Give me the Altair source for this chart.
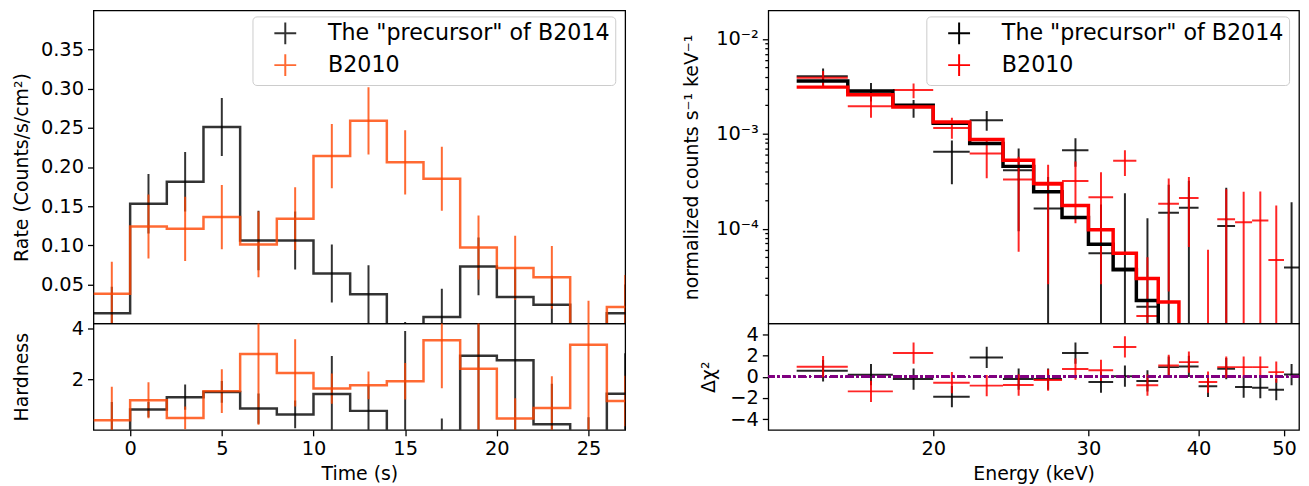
import altair as alt
import pandas as pd

FONT = "DejaVu Sans"
names = ['The "precursor" of B2014', 'B2010']

# ---------------- left: light curves (2 s bins) ----------------
t_edges = [-2, 0, 2, 4, 6, 8, 10, 12, 14, 16, 18, 20, 22, 24, 26, 28]
rate_pre = [0.013, 0.153, 0.181, 0.251, 0.106, 0.106, 0.064, 0.0375, -0.035, 0.0084, 0.073, 0.034, 0.024, -0.040, 0.013]
rate_pre_err = [0.034, 0.038, 0.038, 0.037, 0.038, 0.037, 0.037, 0.037, 0.037, 0.036, 0.037, 0.037, 0.037, 0.037, 0.037]
rate_b10 = [0.038, 0.124, 0.121, 0.136, 0.101, 0.134, 0.214, 0.259, 0.206, 0.185, 0.097, 0.071, 0.059, -0.012, 0.021]
rate_b10_err = [0.041, 0.041, 0.041, 0.041, 0.042, 0.040, 0.041, 0.043, 0.041, 0.041, 0.041, 0.041, 0.040, 0.041, 0.041]

hard_pre = [-0.5, 0.80, 1.29, 1.50, 0.84, 0.61, 1.42, 0.75, -0.3, -0.5, 2.93, 2.75, 0.22, -1.0, 1.43]
hard_pre_err = [1.6, 0.3, 0.5, 0.43, 0.6, 0.55, 1.5, 1.0, 4.2, 0.95, 3.0, 3.0, 1.6, 1.5, 1.6]
hard_b10 = [0.38, 1.17, 0.47, 1.53, 3.00, 2.25, 1.63, 1.76, 1.92, 3.54, 2.41, 0.45, 0.86, 3.36, 1.14]
hard_b10_err = [1.32, 0.71, 0.45, 0.86, 2.8, 1.33, 0.6, 0.55, 0.72, 1.9, 2.5, 0.8, 1.26, 3.5, 1.0]

rate_ticks = [0.05, 0.10, 0.15, 0.20, 0.25, 0.30, 0.35]
hard_ticks = [2, 4]
time_ticks = [0, 5, 10, 15, 20, 25]

# ---------------- right: spectra (2 keV bins) ----------------
e_center = [15, 17, 19, 21, 23, 25, 27, 29, 31, 33, 35, 37, 39, 41, 43, 45, 47, 49, 51]
e_half = 1.0
spec_pre = [4.05e-3, 2.8e-3, 2.0e-3, 6.47e-4, 1.39e-3, 4.13e-4, 1.63e-4, 6.73e-4, 5.5e-5, 3.8e-5, 1.5e-5, 1.47e-4, 1.66e-4, None, 1.07e-4, None, None, None, 3.9e-5]
spec_pre_lo = [3.2e-3, 2.2e-3, 1.48e-3, 2.94e-4, 1.08e-3, 9.4e-5, 1e-6, 4.5e-4, 1e-6, 1e-6, 1e-6, 1e-6, 1e-6, None, 1e-6, None, None, None, 1e-6]
spec_pre_hi = [4.9e-3, 3.44e-3, 2.28e-3, 8.5e-4, 1.74e-3, 7.0e-4, 3.5e-4, 9.0e-4, 1.8e-4, 2.36e-4, 1.29e-4, 2.9e-4, 3.2e-4, None, 2.7e-4, None, None, None, 1.9e-4]
spec_b10 = [3.9e-3, 1.95e-3, 2.9e-3, 1.15e-3, 6.22e-4, 3.31e-4, 2.9e-4, 3.18e-4, 2.15e-4, 5.19e-4, 1.2e-5, 1.83e-4, 2.11e-4, 8e-6, 1.26e-4, 1.17e-4, 1.22e-4, 4.68e-5, None]
spec_b10_lo = [3.2e-3, 1.48e-3, 2.38e-3, 8.9e-4, 3.4e-4, 5.7e-5, 2.6e-5, 1.14e-4, 2.6e-5, 3.6e-4, 1e-6, 2.17e-5, 6.4e-5, 1e-6, 1e-6, 1e-6, 1e-6, 1e-6, None]
spec_b10_hi = [4.6e-3, 2.58e-3, 3.39e-3, 1.48e-3, 8.9e-4, 5.75e-4, 4.72e-4, 5.1e-4, 3.94e-4, 6.73e-4, 5.0e-5, 3.39e-4, 3.5e-4, 6e-5, 2.61e-4, 2.45e-4, 2.47e-4, 1.76e-4, None]

m_edges = [14, 16, 18, 20, 22, 24, 26, 28, 30, 32, 34, 36, 38]
model_pre = [3.61e-3, 2.83e-3, 2.0e-3, 1.29e-3, 7.9e-4, 4.54e-4, 2.45e-4, 1.31e-4, 6.84e-5, 3.69e-5, 1.75e-5, 0.0]
model_b10 = [3.11e-3, 2.58e-3, 1.92e-3, 1.33e-3, 8.74e-4, 5.28e-4, 2.99e-4, 1.76e-4, 9.75e-5, 5.52e-5, 2.98e-5, 1.69e-5]

res_pre = [0.56, 0.19, -0.22, -1.88, 1.81, -0.22, -0.22, 2.22, -0.5, 0.05, -0.4, 0.9, 0.96, -0.9, 0.75, -0.97, -1.03, -1.22, 0.2]
res_b10 = [0.94, -1.38, 2.22, -0.56, -0.84, -0.78, -0.31, 0.72, 0.6, 2.8, -0.8, 1.06, 1.37, -0.5, 0.9, 0.9, 0.9, 0.43, None]
res_err = 1.0

energy_ticks = [20, 30, 40, 50]
res_ticks = [-4, -2, 0, 2, 4]
spec_major = [1e-4, 1e-3, 1e-2]
spec_minor = [m * 10.0 ** e for e in (-5, -4, -3, -2) for m in range(2, 10) if m * 10.0 ** e < 0.0199]
FLOOR = 1e-9  # stands for zero model counts on the log axis


# ---------------- helpers to build tables ----------------
def steps(edges, vals, name):
    rows = [{"x": e, "v": v, "s": name} for e, v in zip(edges[:-1], vals)]
    rows.append({"x": edges[-1], "v": vals[-1], "s": name})
    return rows


def log_steps(edges, vals, name):
    vv = [v if v > 0 else FLOOR for v in vals]
    rows = [{"x": e, "v": v, "s": name} for e, v in zip(edges[:-1], vv)]
    rows.append({"x": edges[-1], "v": FLOOR, "s": name})
    return rows


def errs(edges, vals, err, name):
    return [{"x": (edges[i] + edges[i + 1]) / 2, "lo": vals[i] - err[i], "hi": vals[i] + err[i], "s": name}
            for i in range(len(vals))]


def crosses(vals, lo, hi, name):
    rows = []
    for e, v, l, h in zip(e_center, vals, lo, hi):
        if v is None:
            continue
        rows.append({"e": e, "xl": e - e_half, "xh": e + e_half, "v": v, "lo": l, "hi": h, "s": name})
    return rows


def res_crosses(vals, name):
    rows = []
    for e, v in zip(e_center, vals):
        if v is None:
            continue
        rows.append({"e": e, "xl": e - e_half, "xh": e + e_half, "v": v, "lo": v - res_err, "hi": v + res_err, "s": name})
    return rows


df_rate_step = pd.DataFrame(steps(t_edges, rate_pre, names[0]) + steps(t_edges, rate_b10, names[1]))
df_rate_err = pd.DataFrame(errs(t_edges, rate_pre, rate_pre_err, names[0]) + errs(t_edges, rate_b10, rate_b10_err, names[1]))
df_hard_step = pd.DataFrame(steps(t_edges, hard_pre, names[0]) + steps(t_edges, hard_b10, names[1]))
df_hard_err = pd.DataFrame(errs(t_edges, hard_pre, hard_pre_err, names[0]) + errs(t_edges, hard_b10, hard_b10_err, names[1]))

df_spec = pd.DataFrame(crosses(spec_pre, spec_pre_lo, spec_pre_hi, names[0]) + crosses(spec_b10, spec_b10_lo, spec_b10_hi, names[1]))
df_model = pd.DataFrame(log_steps(m_edges, model_pre, names[0]) + log_steps(m_edges, model_b10, names[1]))
df_res = pd.DataFrame(res_crosses(res_pre, names[0]) + res_crosses(res_b10, names[1]))

# ---------------- shared styling ----------------
W_L, W_R, H_T, H_B = 535, 534, 315, 107
LBL, TTL = 19.5, 19

cross_path = "M-1,0H1M0,-1V1"


def legend(x, y, opacity):
    return alt.Legend(orient="none", legendX=x, legendY=y, direction="vertical",
                      symbolType=cross_path, symbolSize=484, symbolStrokeWidth=2,
                      symbolFillColor="transparent", symbolOpacity=opacity,
                      labelFont=FONT, labelFontSize=22.3, labelColor="black", labelLimit=600,
                      padding=5, rowPadding=2, symbolOffset=16, labelOffset=31,
                      strokeColor="#cccccc", fillColor="rgba(255,255,255,0.8)", cornerRadius=4)


col_left = alt.Scale(domain=names, range=["#000000", "#ff4500"])
col_right = alt.Scale(domain=names, range=["#000000", "#ff0000"])

xs_t = alt.Scale(domain=[-2, 27], nice=False, zero=False)
ys_rate = alt.Scale(domain=[0, 0.4], nice=False, zero=False)
ys_hard = alt.Scale(domain=[0, 4.2], nice=False, zero=False)
xs_e = alt.Scale(type="log", domain=[13, 52], nice=False)
ys_spec = alt.Scale(type="log", domain=[1e-5, 0.02], nice=False)
ys_res = alt.Scale(domain=[-5, 5], nice=False, zero=False)

ax_rate = alt.Axis(values=rate_ticks, format=".2f", title="Rate (Counts/s/cm²)",
                   titleX=-72, titleBaseline="middle", labelOverlap=False)
ax_hard = alt.Axis(values=hard_ticks, format="d", title="Hardness",
                   titleX=-72, titleBaseline="middle", labelOverlap=False)
ax_time = alt.Axis(values=time_ticks, format="d", title="Time (s)", labelFlush=False, labelOverlap=False,
                   titleY=44, titleBaseline="middle")

major_test = " || ".join(f"datum.value == {v}" for v in spec_major)
ax_spec = alt.Axis(values=sorted(spec_major + spec_minor), title="normalized counts s⁻¹ keV⁻¹",
                   labelExpr="datum.value == 0.01 ? '10⁻²' : datum.value == 0.001 ? '10⁻³' : datum.value == 0.0001 ? '10⁻⁴' : ''",
                   tickSize={"condition": {"test": major_test, "value": 6}, "value": 3.5},
                   titleX=-77, titleBaseline="middle", labelOverlap=False)
ax_res = alt.Axis(values=res_ticks, format="d", title="Δχ²", titleX=-60, titleBaseline="middle", labelOverlap=False)
ax_energy = alt.Axis(values=energy_ticks, format="d", title="Energy (keV)", labelFlush=False, labelOverlap=False,
                     titleY=44, titleBaseline="middle")

# ---------------- left column ----------------
lt_err = alt.Chart(df_rate_err).mark_rule(strokeWidth=2, opacity=0.8, clip=True).encode(
    x=alt.X("x:Q", scale=xs_t, axis=None),
    y=alt.Y("lo:Q", scale=ys_rate, axis=ax_rate),
    y2="hi:Q",
    color=alt.Color("s:N", scale=col_left, title=None, legend=legend(160, 6, 0.8)),
)
lt_step = alt.Chart(df_rate_step).mark_line(interpolate="step-after", strokeWidth=2.5, opacity=0.8, clip=True).encode(
    x=alt.X("x:Q", scale=xs_t, axis=None),
    y=alt.Y("v:Q", scale=ys_rate, axis=ax_rate),
    color=alt.Color("s:N", scale=col_left, legend=None),
)
left_top = alt.layer(lt_err, lt_step).properties(width=W_L, height=H_T)

lb_err = alt.Chart(df_hard_err).mark_rule(strokeWidth=2, opacity=0.8, clip=True).encode(
    x=alt.X("x:Q", scale=xs_t, axis=ax_time),
    y=alt.Y("lo:Q", scale=ys_hard, axis=ax_hard),
    y2="hi:Q",
    color=alt.Color("s:N", scale=col_left, legend=None),
)
lb_step = alt.Chart(df_hard_step).mark_line(interpolate="step-after", strokeWidth=2.5, opacity=0.8, clip=True).encode(
    x=alt.X("x:Q", scale=xs_t, axis=ax_time),
    y=alt.Y("v:Q", scale=ys_hard, axis=ax_hard),
    color=alt.Color("s:N", scale=col_left, legend=None),
)
left_bot = alt.layer(lb_err, lb_step).properties(width=W_L, height=H_B)

left_col = alt.vconcat(left_top, left_bot, spacing=0, bounds="flush").resolve_scale(
    color="independent").resolve_legend(color="independent")

# ---------------- right column ----------------
rt_h = alt.Chart(df_spec).mark_rule(strokeWidth=2, opacity=0.85, clip=True).encode(
    x=alt.X("xl:Q", scale=xs_e, axis=None), x2="xh:Q",
    y=alt.Y("v:Q", scale=ys_spec, axis=ax_spec),
    color=alt.Color("s:N", scale=col_right, title=None, legend=legend(159, 6, 1.0)),
)
rt_v = alt.Chart(df_spec).mark_rule(strokeWidth=2, opacity=0.85, clip=True).encode(
    x=alt.X("e:Q", scale=xs_e, axis=None),
    y=alt.Y("lo:Q", scale=ys_spec, axis=ax_spec), y2="hi:Q",
    color=alt.Color("s:N", scale=col_right, legend=None),
)
rt_model = alt.Chart(df_model).mark_line(interpolate="step-after", strokeWidth=3.5, clip=True).encode(
    x=alt.X("x:Q", scale=xs_e, axis=None),
    y=alt.Y("v:Q", scale=ys_spec, axis=ax_spec),
    color=alt.Color("s:N", scale=col_right, legend=None),
)
right_top = alt.layer(rt_h, rt_v, rt_model).properties(width=W_R, height=H_T)

rb_h = alt.Chart(df_res).mark_rule(strokeWidth=2, opacity=0.85, clip=True).encode(
    x=alt.X("xl:Q", scale=xs_e, axis=ax_energy), x2="xh:Q",
    y=alt.Y("v:Q", scale=ys_res, axis=ax_res),
    color=alt.Color("s:N", scale=col_right, legend=None),
)
rb_v = alt.Chart(df_res).mark_rule(strokeWidth=2, opacity=0.85, clip=True).encode(
    x=alt.X("e:Q", scale=xs_e, axis=ax_energy),
    y=alt.Y("lo:Q", scale=ys_res, axis=ax_res), y2="hi:Q",
    color=alt.Color("s:N", scale=col_right, legend=None),
)
rb_zero = alt.Chart(df_res).mark_rule(color="#800080", strokeWidth=2, strokeDash=[8, 3, 2, 3]).encode(
    y=alt.datum(0, scale=ys_res, axis=ax_res)
)
right_bot = alt.layer(rb_h, rb_v, rb_zero).properties(width=W_R, height=H_B)

right_col = alt.vconcat(right_top, right_bot, spacing=0, bounds="flush").resolve_scale(
    color="independent").resolve_legend(color="independent")

chart = alt.hconcat(left_col, right_col, spacing=56).resolve_scale(color="independent").resolve_legend(
    color="independent"
).properties(
    padding={"left": 4, "top": 0, "right": 0, "bottom": 0}
).configure_view(
    stroke="black", strokeWidth=1.3
).configure_axis(
    labelFont=FONT, titleFont=FONT, labelFontSize=LBL, titleFontSize=TTL, titleFontWeight="normal",
    labelColor="black", titleColor="black", tickColor="black", domain=False, grid=False,
    tickSize=6, tickWidth=1.3, labelPadding=4, titlePadding=6
)

chart.save("out.html", embed_options={"renderer": "svg", "actions": False})
